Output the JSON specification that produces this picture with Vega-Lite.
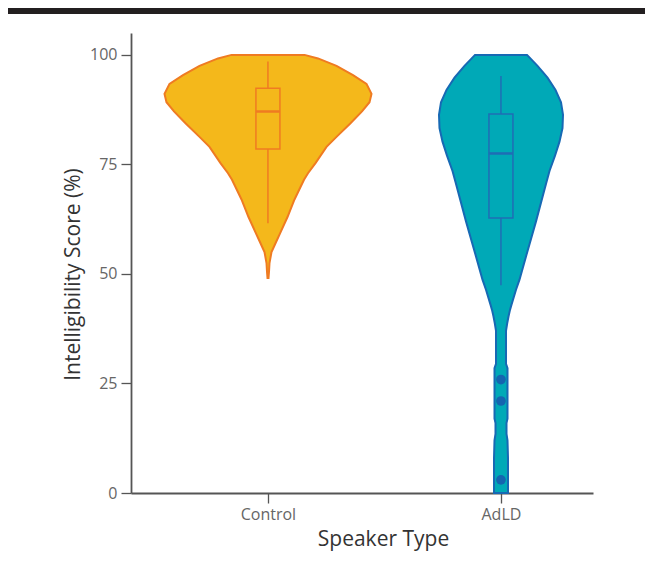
{
  "$schema": "https://vega.github.io/schema/vega-lite/v6.json",
  "padding": {"left": 8, "top": 8, "right": 0, "bottom": 10},
  "background": "white",
  "config": {
    "view": {"stroke": null},
    "font": "Open Sans",
    "axis": {
      "grid": false,
      "domainColor": "#555555",
      "domainWidth": 1.8,
      "tickColor": "#555555",
      "tickWidth": 1.3,
      "tickSize": 10,
      "labelColor": "#666666",
      "labelFontSize": 16,
      "titleColor": "#333333",
      "titleFontSize": 21,
      "titleFontWeight": "normal"
    }
  },
  "datasets": {
    "violin": [
      {"group": "Control", "score": 100, "density": 73},
      {"group": "Control", "score": 99.2, "density": 100},
      {"group": "Control", "score": 97.5, "density": 137},
      {"group": "Control", "score": 95.4, "density": 170},
      {"group": "Control", "score": 93.4, "density": 197},
      {"group": "Control", "score": 91.1, "density": 207},
      {"group": "Control", "score": 89.2, "density": 203},
      {"group": "Control", "score": 87.1, "density": 188},
      {"group": "Control", "score": 84.4, "density": 165},
      {"group": "Control", "score": 81.4, "density": 138},
      {"group": "Control", "score": 79, "density": 117},
      {"group": "Control", "score": 75.3, "density": 95},
      {"group": "Control", "score": 73, "density": 80},
      {"group": "Control", "score": 71.5, "density": 72},
      {"group": "Control", "score": 67, "density": 53},
      {"group": "Control", "score": 63, "density": 39},
      {"group": "Control", "score": 59.5, "density": 25},
      {"group": "Control", "score": 57, "density": 15},
      {"group": "Control", "score": 55, "density": 7},
      {"group": "Control", "score": 52.5, "density": 3},
      {"group": "Control", "score": 50.5, "density": 2},
      {"group": "Control", "score": 49.1, "density": 1},
      {"group": "AdLD", "score": 100, "density": 52},
      {"group": "AdLD", "score": 97.5, "density": 73},
      {"group": "AdLD", "score": 94.8, "density": 93},
      {"group": "AdLD", "score": 92, "density": 109},
      {"group": "AdLD", "score": 89.2, "density": 120},
      {"group": "AdLD", "score": 86.3, "density": 124},
      {"group": "AdLD", "score": 83.3, "density": 123},
      {"group": "AdLD", "score": 80.2, "density": 117},
      {"group": "AdLD", "score": 77, "density": 108},
      {"group": "AdLD", "score": 73.5, "density": 97},
      {"group": "AdLD", "score": 71, "density": 91},
      {"group": "AdLD", "score": 68.4, "density": 85},
      {"group": "AdLD", "score": 62, "density": 70},
      {"group": "AdLD", "score": 58, "density": 60},
      {"group": "AdLD", "score": 54, "density": 50},
      {"group": "AdLD", "score": 48.7, "density": 37},
      {"group": "AdLD", "score": 46.4, "density": 30},
      {"group": "AdLD", "score": 43, "density": 21},
      {"group": "AdLD", "score": 41.8, "density": 18},
      {"group": "AdLD", "score": 40.3, "density": 15},
      {"group": "AdLD", "score": 38.8, "density": 12.5},
      {"group": "AdLD", "score": 37, "density": 10},
      {"group": "AdLD", "score": 33, "density": 10},
      {"group": "AdLD", "score": 29.5, "density": 10},
      {"group": "AdLD", "score": 28.5, "density": 13},
      {"group": "AdLD", "score": 17, "density": 13},
      {"group": "AdLD", "score": 16, "density": 11},
      {"group": "AdLD", "score": 13.5, "density": 11},
      {"group": "AdLD", "score": 12, "density": 13},
      {"group": "AdLD", "score": 8, "density": 14},
      {"group": "AdLD", "score": 0, "density": 14}
    ],
    "box": [
      {"group": "Control", "lower": 61.6, "q1": 78.5, "median": 87.1, "q3": 92.4, "upper": 98.5},
      {"group": "AdLD", "lower": 47.4, "q1": 62.8, "median": 77.5, "q3": 86.5, "upper": 95.2}
    ],
    "outliers": [
      {"group": "AdLD", "score": 25.9},
      {"group": "AdLD", "score": 21.0},
      {"group": "AdLD", "score": 3.0}
    ]
  },
  "spacing": 19,
  "center": true,
  "vconcat": [
    {
      "width": 708,
      "height": 6,
      "data": {"values": [{"bar": 1}]},
      "mark": {"type": "rect", "color": "#231f20"},
      "encoding": {}
    },
    {
      "width": 462,
      "height": 460,
      "resolve": {"scale": {"x": "independent"}},
      "layer": [
        {
          "data": {"name": "violin"},
          "transform": [{"filter": "datum.group === 'Control'"}],
          "mark": {"type": "area", "orient": "horizontal", "fill": "#F4B81B", "stroke": "#EF7B22", "strokeWidth": 2, "fillOpacity": 1},
          "encoding": {
            "y": {
              "field": "score", "type": "quantitative",
              "scale": {"domain": [0, 105], "nice": false},
              "axis": {"values": [0, 25, 50, 75, 100], "title": "Intelligibility Score (%)", "titlePadding": 6, "labelPadding": 4, "titleY": 241}
            },
            "x": {"field": "density", "type": "quantitative", "stack": "center", "impute": null, "scale": {"domain": [-33.5, 428.5], "nice": false, "zero": false}, "axis": null}
          }
        },
        {
          "data": {"name": "violin"},
          "transform": [{"filter": "datum.group === 'AdLD'"}],
          "mark": {"type": "area", "orient": "horizontal", "fill": "#00A9B7", "stroke": "#1769B4", "strokeWidth": 2, "fillOpacity": 1},
          "encoding": {
            "y": {"field": "score", "type": "quantitative"},
            "x": {"field": "density", "type": "quantitative", "stack": "center", "impute": null, "scale": {"domain": [-308, 154], "nice": false, "zero": false}, "axis": null}
          }
        },
        {
          "data": {"name": "box"},
          "encoding": {
            "x": {
              "field": "group", "type": "nominal",
              "scale": {"type": "point", "domain": ["Control", "AdLD"], "padding": 0.4914, "align": 0.598},
              "axis": {"title": "Speaker Type", "labelAngle": 0, "titleX": 252, "titlePadding": 6, "labelPadding": 3}
            }
          },
          "layer": [
            {
              "mark": {"type": "rule", "strokeWidth": 1.5},
              "encoding": {
                "y": {"field": "lower", "type": "quantitative"},
                "y2": {"field": "upper"},
                "color": {"field": "group", "type": "nominal", "scale": {"domain": ["Control", "AdLD"], "range": ["#EF7B22", "#1F6DB5"]}, "legend": null}
              }
            },
            {
              "mark": {"type": "bar", "width": 24, "strokeWidth": 1.5},
              "encoding": {
                "y": {"field": "q1", "type": "quantitative"},
                "y2": {"field": "q3"},
                "fill": {"field": "group", "type": "nominal", "scale": {"domain": ["Control", "AdLD"], "range": ["#F4B81B", "#00A9B7"]}, "legend": null},
                "stroke": {"field": "group", "type": "nominal", "scale": {"domain": ["Control", "AdLD"], "range": ["#EF7B22", "#1F6DB5"]}, "legend": null}
              }
            },
            {
              "mark": {"type": "tick", "size": 24, "thickness": 2.5, "opacity": 1},
              "encoding": {
                "y": {"field": "median", "type": "quantitative"},
                "color": {"field": "group", "type": "nominal", "scale": {"domain": ["Control", "AdLD"], "range": ["#EF7B22", "#1F6DB5"]}, "legend": null}
              }
            },
            {
              "data": {"name": "outliers"},
              "mark": {"type": "point", "filled": true, "size": 95, "opacity": 1, "color": "#1565B0"},
              "encoding": {
                "y": {"field": "score", "type": "quantitative"}
              }
            }
          ]
        }
      ]
    }
  ]
}
